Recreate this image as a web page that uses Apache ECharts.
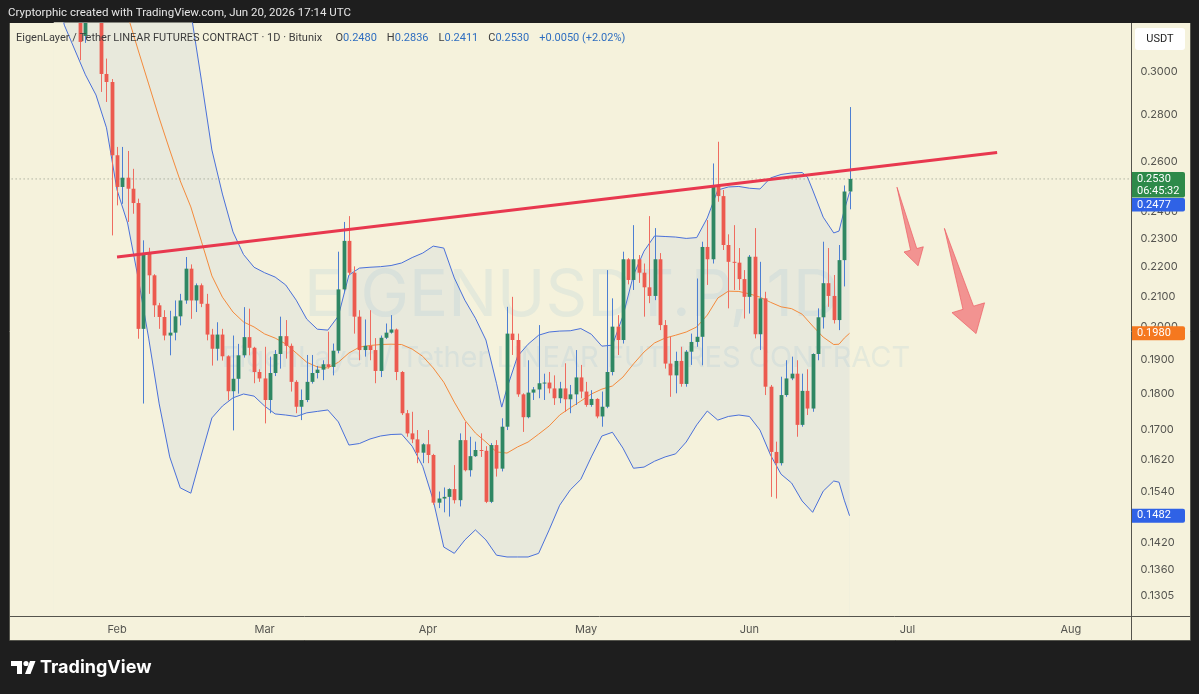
<!DOCTYPE html>
<html>
<head>
<meta charset="utf-8">
<script src="https://cdn.jsdelivr.net/npm/echarts@6/dist/echarts.min.js"></script>
<style>
  html, body { margin: 0; padding: 0; background: #1e1e1e; }
  #chart { width: 1199px; height: 694px; }
</style>
</head>
<body>
<div id="chart"></div>
<script>
// daily axis: Jan 12 .. Aug 12 2026 (category index = day number from Jan 12)
const axisStart = Date.UTC(2026, 0, 12);
const axisDays = 213;
const monthNames = ['Jan', 'Feb', 'Mar', 'Apr', 'May', 'Jun', 'Jul', 'Aug', 'Sep', 'Oct', 'Nov', 'Dec'];
const priceTicks = [0.3000, 0.2800, 0.2600, 0.2400, 0.2300, 0.2200, 0.2100, 0.2000, 0.1900, 0.1800,
                    0.1700, 0.1620, 0.1540, 0.1480, 0.1420, 0.1360, 0.1305];

// candles start on Jan 25 (index 13), [open, close, low, high]
const candleStart = 13;
const candles = [
  [0.3380, 0.3145, 0.3055, 0.3450], [0.3175, 0.3300, 0.3140, 0.3400], [0.3300, 0.3520, 0.3260, 0.3600],
  [0.3520, 0.3450, 0.3320, 0.3620], [0.3450, 0.2989, 0.2905, 0.3500], [0.2989, 0.2951, 0.2859, 0.3063],
  [0.2951, 0.2627, 0.2313, 0.2965], [0.2627, 0.2498, 0.2426, 0.2662], [0.2498, 0.2535, 0.2432, 0.2662],
  [0.2535, 0.2491, 0.2363, 0.2645], [0.2491, 0.2435, 0.2394, 0.2571], [0.2435, 0.1994, 0.1963, 0.2452],
  [0.1994, 0.2247, 0.1771, 0.2295], [0.2247, 0.2171, 0.2108, 0.2268], [0.2171, 0.2070, 0.2032, 0.2175],
  [0.2070, 0.2032, 0.1994, 0.2078], [0.2032, 0.1973, 0.1958, 0.2054], [0.1973, 0.1982, 0.1912, 0.2052],
  [0.1982, 0.2034, 0.1958, 0.2086], [0.2034, 0.2086, 0.2005, 0.2108], [0.2086, 0.2194, 0.2075, 0.2235],
  [0.2194, 0.2086, 0.2026, 0.2209], [0.2086, 0.2137, 0.2048, 0.2143], [0.2137, 0.2075, 0.2064, 0.2143],
  [0.2075, 0.1976, 0.1958, 0.2108], [0.1976, 0.1932, 0.1881, 0.1994], [0.1932, 0.1976, 0.1896, 0.2015],
  [0.1976, 0.1909, 0.1896, 0.1994], [0.1909, 0.1806, 0.1780, 0.1912], [0.1806, 0.1842, 0.1697, 0.1973],
  [0.1842, 0.1912, 0.1799, 0.1947], [0.1912, 0.1968, 0.1905, 0.2064], [0.1968, 0.1935, 0.1912, 0.2059],
  [0.1935, 0.1862, 0.1829, 0.1938], [0.1862, 0.1843, 0.1833, 0.1870], [0.1843, 0.1781, 0.1716, 0.1938],
  [0.1781, 0.1859, 0.1744, 0.1908], [0.1859, 0.1916, 0.1850, 0.1928], [0.1916, 0.1971, 0.1872, 0.2033],
  [0.1971, 0.1941, 0.1902, 0.2022], [0.1941, 0.1833, 0.1805, 0.1948], [0.1833, 0.1762, 0.1744, 0.1838],
  [0.1762, 0.1781, 0.1725, 0.1811], [0.1781, 0.1833, 0.1775, 0.1913], [0.1833, 0.1859, 0.1828, 0.1913],
  [0.1859, 0.1869, 0.1843, 0.1880], [0.1869, 0.1885, 0.1838, 0.1897], [0.1885, 0.1877, 0.1872, 0.1985],
  [0.1877, 0.1926, 0.1852, 0.1948], [0.1926, 0.2123, 0.1918, 0.2254], [0.2123, 0.2293, 0.2110, 0.2363],
  [0.2293, 0.2180, 0.2172, 0.2385], [0.2180, 0.2033, 0.1979, 0.2202], [0.2033, 0.1928, 0.1897, 0.2054],
  [0.1928, 0.1941, 0.1908, 0.2024], [0.1941, 0.1928, 0.1897, 0.2054], [0.1928, 0.1865, 0.1829, 0.1965],
  [0.1865, 0.1966, 0.1847, 0.1973], [0.1966, 0.1982, 0.1962, 0.2011], [0.1982, 0.1992, 0.1979, 0.2038],
  [0.1992, 0.1862, 0.1838, 0.1995], [0.1862, 0.1744, 0.1739, 0.1865], [0.1744, 0.1689, 0.1680, 0.1753],
  [0.1689, 0.1673, 0.1663, 0.1748], [0.1673, 0.1638, 0.1611, 0.1698], [0.1638, 0.1660, 0.1611, 0.1663],
  [0.1660, 0.1632, 0.1611, 0.1698], [0.1632, 0.1513, 0.1508, 0.1635], [0.1513, 0.1523, 0.1500, 0.1540],
  [0.1523, 0.1527, 0.1490, 0.1550], [0.1527, 0.1546, 0.1480, 0.1548], [0.1546, 0.1519, 0.1511, 0.1606],
  [0.1519, 0.1671, 0.1504, 0.1689], [0.1671, 0.1593, 0.1590, 0.1720], [0.1593, 0.1629, 0.1577, 0.1680],
  [0.1629, 0.1645, 0.1627, 0.1667], [0.1645, 0.1643, 0.1627, 0.1689], [0.1643, 0.1515, 0.1512, 0.1655],
  [0.1515, 0.1658, 0.1512, 0.1663], [0.1658, 0.1597, 0.1577, 0.1671], [0.1597, 0.1707, 0.1590, 0.1730],
  [0.1707, 0.1979, 0.1698, 0.2065], [0.1979, 0.1959, 0.1913, 0.2098], [0.1959, 0.1797, 0.1790, 0.1979],
  [0.1797, 0.1733, 0.1693, 0.1800], [0.1733, 0.1802, 0.1730, 0.1897], [0.1802, 0.1811, 0.1781, 0.1818],
  [0.1811, 0.1829, 0.1786, 0.2006], [0.1829, 0.1831, 0.1781, 0.1857], [0.1831, 0.1814, 0.1800, 0.1862],
  [0.1814, 0.1786, 0.1767, 0.1852], [0.1786, 0.1814, 0.1772, 0.1833], [0.1814, 0.1783, 0.1748, 0.1888],
  [0.1783, 0.1797, 0.1744, 0.1824], [0.1797, 0.1846, 0.1767, 0.1928], [0.1846, 0.1805, 0.1786, 0.1883],
  [0.1805, 0.1767, 0.1762, 0.1833], [0.1767, 0.1784, 0.1762, 0.1809], [0.1784, 0.1735, 0.1730, 0.1786],
  [0.1735, 0.1762, 0.1707, 0.1805], [0.1762, 0.1862, 0.1758, 0.2189], [0.1862, 0.2001, 0.1852, 0.2093],
  [0.2001, 0.1959, 0.1913, 0.2038], [0.1959, 0.2227, 0.1948, 0.2254], [0.2227, 0.2155, 0.2140, 0.2231],
  [0.2155, 0.2227, 0.2121, 0.2351], [0.2227, 0.2180, 0.2145, 0.2242], [0.2180, 0.2130, 0.2033, 0.2212],
  [0.2130, 0.2101, 0.2077, 0.2385], [0.2101, 0.2227, 0.2087, 0.2340], [0.2227, 0.2006, 0.1990, 0.2249],
  [0.2006, 0.1887, 0.1872, 0.2022], [0.1887, 0.1852, 0.1790, 0.1969], [0.1852, 0.1895, 0.1800, 0.1923],
  [0.1895, 0.1827, 0.1819, 0.1938], [0.1827, 0.1923, 0.1819, 0.1928], [0.1923, 0.1953, 0.1883, 0.1979],
  [0.1953, 0.1969, 0.1938, 0.2160], [0.1969, 0.2271, 0.1882, 0.2290], [0.2271, 0.2227, 0.2138, 0.2370],
  [0.2227, 0.2499, 0.2212, 0.2593], [0.2499, 0.2462, 0.2440, 0.2684], [0.2462, 0.2278, 0.2260, 0.2486],
  [0.2278, 0.2218, 0.2060, 0.2317], [0.2218, 0.2215, 0.2121, 0.2351], [0.2215, 0.2158, 0.2121, 0.2267],
  [0.2158, 0.2098, 0.2027, 0.2189], [0.2098, 0.2236, 0.2043, 0.2242], [0.2236, 0.1977, 0.1964, 0.2340],
  [0.1977, 0.2093, 0.1928, 0.2218], [0.2093, 0.1819, 0.1795, 0.2115], [0.1819, 0.1640, 0.1527, 0.1824],
  [0.1640, 0.1611, 0.1523, 0.1667], [0.1611, 0.1795, 0.1605, 0.1848], [0.1795, 0.1843, 0.1790, 0.1897],
  [0.1843, 0.1857, 0.1838, 0.1908], [0.1857, 0.1712, 0.1680, 0.1897], [0.1712, 0.1807, 0.1707, 0.1857],
  [0.1807, 0.1757, 0.1739, 0.1870], [0.1757, 0.1916, 0.1748, 0.1918], [0.1916, 0.2031, 0.1897, 0.2060],
  [0.2031, 0.2144, 0.1995, 0.2290], [0.2144, 0.2101, 0.2065, 0.2267], [0.2101, 0.2022, 0.2011, 0.2172],
  [0.2022, 0.2224, 0.1990, 0.2278], [0.2224, 0.2480, 0.2133, 0.2504], [0.2480, 0.2530, 0.2411, 0.2836]
];

// Bollinger bands, [day index, price]
const bbUpper = [[8,0.46],[20,0.43],[30,0.39],[32,0.3698],[34,0.3298],[36,0.2961],[38,0.2649],[40,0.2470],[42,0.2326],[44,0.2244],
  [46,0.2199],[48,0.2180],[50,0.2165],[52,0.2138],[54,0.2087],[56,0.2025],[58,0.1993],[60,0.1990],[62,0.2035],[64,0.2172],
  [66,0.2196],[68,0.2199],[70,0.2201],[72,0.2205],[74,0.2214],[76,0.2233],[78,0.2249],[80,0.2274],[82,0.2267],[84,0.2162],
  [86,0.2087],[88,0.2028],[90,0.1959],[92,0.1829],[93,0.1761],[94,0.1815],[96,0.1909],[98,0.1946],[100,0.1974],[102,0.1984],
  [104,0.1987],[106,0.1988],[108,0.1995],[110,0.1977],[112,0.1940],[114,0.1943],[116,0.2035],[118,0.2172],[120,0.2256],[122,0.2311],
  [124,0.2309],[126,0.2307],[128,0.2302],[130,0.2305],[132,0.2378],[134,0.2486],[136,0.2498],[138,0.2500],[140,0.2493],[142,0.2490],
  [144,0.2534],[146,0.2548],[148,0.2554],[150,0.2556],[151,0.2538],[152,0.2486],[154,0.2381],[156,0.2322],[157,0.2329],[158,0.2408],[159,0.2477]];
const bbBasis = [[20,0.3470],[22,0.3282],[24,0.3105],[26,0.2942],[28,0.2787],[30,0.2649],[32,0.2522],[34,0.2420],[36,0.2292],[38,0.2169],
  [40,0.2097],[42,0.2048],[44,0.2016],[46,0.2000],[48,0.1978],[50,0.1965],[52,0.1947],[54,0.1919],[56,0.1891],[58,0.1877],
  [60,0.1874],[62,0.1891],[64,0.1919],[66,0.1937],[68,0.1942],[70,0.1945],[72,0.1946],[74,0.1945],[76,0.1931],[78,0.1909],
  [80,0.1874],[82,0.1832],[84,0.1775],[86,0.1725],[88,0.1690],[90,0.1666],[92,0.1640],[94,0.1637],[96,0.1653],[98,0.1666],
  [100,0.1687],[102,0.1709],[104,0.1739],[106,0.1759],[108,0.1778],[110,0.1798],[112,0.1812],[114,0.1821],[116,0.1847],[118,0.1886],
  [120,0.1922],[122,0.1950],[124,0.1965],[126,0.1974],[128,0.1984],[130,0.2000],[132,0.2038],[134,0.2094],[136,0.2117],[138,0.2116],
  [140,0.2108],[142,0.2097],[144,0.2080],[146,0.2065],[148,0.2059],[150,0.2041],[152,0.2003],[154,0.1968],[156,0.1945],[157,0.1946],
  [158,0.1965],[159,0.1980]];
const bbLower = [[8,0.3470],[10,0.3230],[12,0.3105],[14,0.2985],[16,0.2891],[18,0.2744],[20,0.2486],[22,0.2359],[24,0.2162],[26,0.1965],
  [28,0.1770],[30,0.1627],[32,0.1549],[34,0.1536],[36,0.1632],[38,0.1731],[40,0.1764],[42,0.1787],[44,0.1798],[46,0.1792],
  [48,0.1764],[50,0.1742],[52,0.1739],[54,0.1735],[56,0.1745],[58,0.1749],[60,0.1753],[62,0.1720],[64,0.1658],[66,0.1662],
  [68,0.1674],[70,0.1682],[72,0.1686],[74,0.1687],[76,0.1655],[78,0.1603],[80,0.1519],[82,0.1410],[84,0.1396],[86,0.1426],
  [88,0.1449],[90,0.1426],[92,0.1392],[94,0.1388],[96,0.1388],[98,0.1388],[100,0.1396],[102,0.1449],[104,0.1507],[106,0.1544],
  [108,0.1570],[110,0.1627],[112,0.1682],[114,0.1692],[116,0.1650],[118,0.1598],[120,0.1601],[122,0.1616],[124,0.1627],[126,0.1635],
  [128,0.1666],[130,0.1712],[132,0.1750],[134,0.1725],[136,0.1735],[138,0.1739],[140,0.1735],[142,0.1698],[144,0.1632],[146,0.1583],
  [148,0.1561],[150,0.1517],[152,0.1490],[154,0.1541],[156,0.1566],[157,0.1563],[158,0.1519],[159,0.1482]];

// drawn trendline and the two "down" arrows
const trendline = [[20, 0.2235], [187, 0.2639]];
const arrows = [
  { from: [167.6, 0.2497], to: [171.6, 0.2204], head: 17, half: 10, shaft: 3.2 },
  { from: [176.5, 0.2339], to: [182.7, 0.1979], head: 27, half: 17, shaft: 5.5 }
];
const lastPrice = 0.2530, upperLast = 0.2477, basisLast = 0.1980, lowerLast = 0.1482;

const cream = '#f5f2dc';
const frameColor = '#55554d';
const upBody = '#2f8763', downBody = '#ec5a4f';
const upWick = '#4d7fd3', downWick = '#ef6c60';
const bandBlue = '#4a70d9', basisOrange = '#f38a3c';
const font = 'Inter, "Noto Sans", sans-serif';
const uiFont = 'Roboto, "Noto Sans", sans-serif';

const days = [];
for (let i = 0; i < axisDays; i++) {
  days.push(new Date(axisStart + i * 86400000).toISOString().slice(0, 10));
}

const chart = echarts.init(document.getElementById('chart'));

function renderCandle(params, api) {
  const i = api.value(0);
  const o = api.value(1), c = api.value(2), l = api.value(3), h = api.value(4);
  const pO = api.coord([i, o]), pC = api.coord([i, c]);
  const pL = api.coord([i, l]), pH = api.coord([i, h]);
  const up = c >= o;
  const bw = 3.8;
  const cx = Math.round(pO[0]) + 0.5;
  const top = Math.min(pO[1], pC[1]), bot = Math.max(pO[1], pC[1]);
  return {
    type: 'group',
    children: [
      { type: 'line', shape: { x1: cx, y1: pH[1], x2: cx, y2: pL[1] },
        style: { stroke: up ? upWick : downWick, lineWidth: 1 } },
      { type: 'rect', shape: { x: cx - bw / 2, y: top, width: bw, height: Math.max(bot - top, 1) },
        style: { fill: up ? upBody : downBody } }
    ]
  };
}

chart.setOption({
  backgroundColor: '#1e1e1e',
  animation: false,
  grid: { left: 9, right: 67.5, top: 23, bottom: 78 },
  xAxis: {
    type: 'category',
    data: days,
    boundaryGap: true,
    axisLine: { show: false },
    axisTick: { show: false },
    splitLine: { show: false },
    axisLabel: {
      interval: (idx, val) => val.slice(8) === '01' && val.slice(5, 7) !== '01',
      formatter: val => monthNames[+val.slice(5, 7) - 1],
      color: '#555550', fontSize: 11, fontFamily: font, margin: 8
    }
  },
  yAxis: {
    type: 'log',
    logBase: 10,
    min: 0.12638,
    max: 0.3241,
    position: 'right',
    axisLine: { show: false },
    axisTick: { show: false },
    splitLine: { show: false },
    axisLabel: {
      customValues: priceTicks,
      formatter: v => v.toFixed(4),
      color: '#555550', fontSize: 11, fontFamily: font, margin: 9
    }
  },
  series: [
    { type: 'line', data: bbUpper, showSymbol: false, silent: true, z: 1,
      lineStyle: { color: bandBlue, width: 1 },
      areaStyle: { color: '#e8e9dc', opacity: 1, origin: 'start' } },
    { type: 'line', data: bbLower, showSymbol: false, silent: true, z: 2,
      lineStyle: { color: bandBlue, width: 1 },
      areaStyle: { color: cream, opacity: 1, origin: 'start' } },
    { type: 'line', data: bbBasis, showSymbol: false, silent: true, z: 6,
      lineStyle: { color: basisOrange, width: 1 } },
    { type: 'line', data: [[0, lastPrice], [axisDays - 1, lastPrice]], showSymbol: false, silent: true, z: 6,
      lineStyle: { color: '#8d9488', width: 1, type: [1, 3] } },
    { type: 'custom', renderItem: renderCandle, clip: true, z: 10,
      encode: { x: 0, y: [1, 2, 3, 4] },
      data: candles.map((r, k) => [candleStart + k, r[0], r[1], r[2], r[3]]) },
    { type: 'line', data: trendline, showSymbol: false, silent: true, z: 12,
      lineStyle: { color: '#e8384f', width: 3 } }
  ]
});

// overlay: frame, header text, watermark, price tags, arrows, logo
const yPix = v => chart.convertToPixel({ yAxisIndex: 0 }, v);
const pt = d => chart.convertToPixel({ xAxisIndex: 0, yAxisIndex: 0 }, d);

function arrowShape(a) {
  const t = pt(a.from), p = pt(a.to);
  const dx = p[0] - t[0], dy = p[1] - t[1];
  const len = Math.hypot(dx, dy);
  const ux = dx / len, uy = dy / len, nx = -uy, ny = ux;
  const bx = p[0] - ux * a.head, by = p[1] - uy * a.head;
  return [
    [t[0], t[1]],
    [bx + nx * a.shaft, by + ny * a.shaft],
    [bx + nx * a.half, by + ny * a.half],
    [p[0], p[1]],
    [bx - nx * a.half, by - ny * a.half],
    [bx - nx * a.shaft, by - ny * a.shaft]
  ];
}

function tag(y0, h, color, lines) {
  const els = [{ type: 'rect', z: 100, shape: { x: 1132, y: y0, width: 53, height: h, r: [0, 2, 2, 0] },
    style: { fill: color } }];
  lines.forEach((s, k) => els.push({ type: 'text', z: 101, x: 1137, y: y0 + 7 + k * 12,
    style: { text: s, fill: '#ffffff', font: '11px ' + uiFont, verticalAlign: 'middle', textVerticalAlign: 'middle' } }));
  return els;
}

const yLast = yPix(lastPrice);
const greenTop = yLast - 7;
const blueTop = Math.max(yPix(upperLast) - 6.5, greenTop + 26);
const watermark = 'rgba(70,140,215,0.09)';
const graphics = [
  { type: 'rect', z: -10, shape: { x: 9, y: 23, width: 1181, height: 617 }, style: { fill: cream } },
  { type: 'polyline', z: 90, shape: { points: [[9.5, 23], [9.5, 640.5], [1190.5, 640.5], [1190.5, 23]] },
    style: { stroke: frameColor, lineWidth: 1, fill: null } },
  { type: 'line', z: 90, shape: { x1: 1131.5, y1: 23, x2: 1131.5, y2: 640 }, style: { stroke: frameColor, lineWidth: 1 } },
  { type: 'line', z: 90, shape: { x1: 9, y1: 616.5, x2: 1190, y2: 616.5 }, style: { stroke: frameColor, lineWidth: 1 } },
  { type: 'text', z: 100, x: 8, y: 13,
    style: { text: 'Cryptorphic created with TradingView.com, Jun 20, 2026 17:14 UTC', fill: '#e6e6e6',
      font: '11.5px ' + uiFont, verticalAlign: 'middle', textVerticalAlign: 'middle' } },
  { type: 'text', z: 100, x: 16, y: 38,
    style: {
      text: '{t|EigenLayer / Tether LINEAR FUTURES CONTRACT · 1D · Bitunix}    {t|O}{v|0.2480}   {t|H}{v|0.2836}   {t|L}{v|0.2411}   {t|C}{v|0.2530}   {v|+0.0050 (+2.02%)}',
      verticalAlign: 'middle', textVerticalAlign: 'middle',
      rich: { t: { fill: '#3c3c3c', font: '11px ' + uiFont }, v: { fill: '#2f6ec0', font: '11px ' + uiFont } }
    } },
  { type: 'text', z: 5, x: 572, y: 296,
    style: { text: 'EIGENUSDT.P, 1D', fill: watermark, font: '65px ' + font,
      align: 'center', textAlign: 'center', verticalAlign: 'middle', textVerticalAlign: 'middle' } },
  { type: 'text', z: 5, x: 566, y: 358,
    style: { text: 'EigenLayer / Tether LINEAR FUTURES CONTRACT', fill: watermark, font: '29px ' + font,
      align: 'center', textAlign: 'center', verticalAlign: 'middle', textVerticalAlign: 'middle' } },
  { type: 'rect', z: 100, shape: { x: 1135, y: 28, width: 50, height: 22, r: 3 }, style: { fill: '#ffffff' } },
  { type: 'text', z: 101, x: 1160, y: 39,
    style: { text: 'USDT', fill: '#222222', font: '11px ' + uiFont, align: 'center', textAlign: 'center',
      verticalAlign: 'middle', textVerticalAlign: 'middle' } },
  ...tag(greenTop, 25.5, '#2e8a4a', [lastPrice.toFixed(4), '06:45:32']),
  ...tag(blueTop, 13.5, '#2f62e6', [upperLast.toFixed(4)]),
  ...tag(yPix(basisLast) - 7, 14, '#f5781f', [basisLast.toFixed(4)]),
  ...tag(yPix(lowerLast) - 7, 14, '#2f62e6', [lowerLast.toFixed(4)]),
  // TradingView logo
  { type: 'polygon', z: 100, shape: { points: [[11, 661], [22, 661], [22, 674], [17, 674], [17, 666], [11, 666]] },
    style: { fill: '#ffffff' } },
  { type: 'circle', z: 100, shape: { cx: 26, cy: 663.5, r: 2.6 }, style: { fill: '#ffffff' } },
  { type: 'polygon', z: 100, shape: { points: [[30, 661], [35.5, 661], [30.5, 674], [25, 674]] }, style: { fill: '#ffffff' } },
  { type: 'text', z: 100, x: 40, y: 667.5,
    style: { text: 'TradingView', fill: '#ffffff', font: 'bold 18px ' + font, verticalAlign: 'middle', textVerticalAlign: 'middle' } }
];
arrows.forEach(a => graphics.push({ type: 'polygon', z: 80, shape: { points: arrowShape(a) },
  style: { fill: 'rgba(240,88,98,0.62)', stroke: 'rgba(236,92,100,0.7)', lineWidth: 1 } }));

chart.setOption({ graphic: graphics });
window.addEventListener('resize', () => chart.resize());
</script>
</body>
</html>
